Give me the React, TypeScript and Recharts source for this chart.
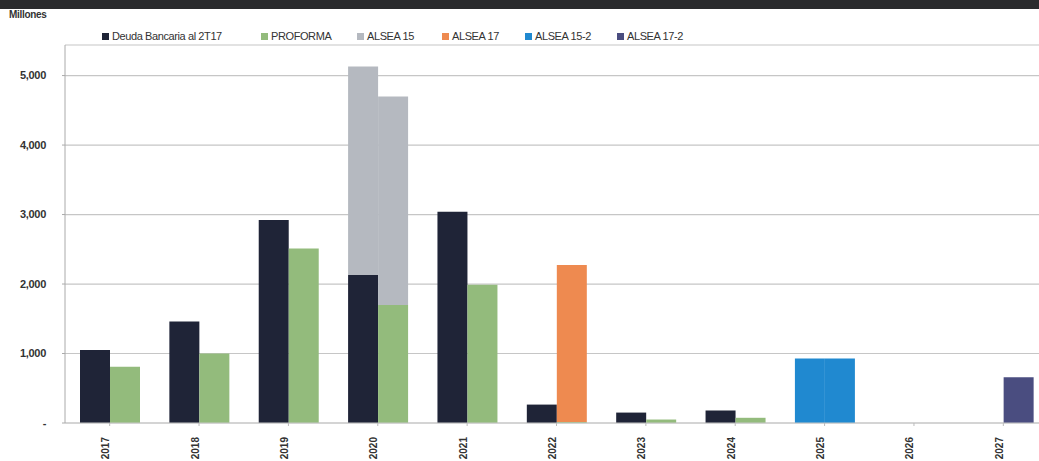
import React from "react";
import { BarChart, Bar, XAxis, YAxis, CartesianGrid } from "recharts";

// ── data (millones) ────────────────────────────────────────────────────────────
const years = ["2017", "2018", "2019", "2020", "2021", "2022", "2023", "2024", "2025", "2026", "2027"];
const deuda = [1050, 1460, 2920, 2130, 3040, 265, 150, 180, 0, 0, 0];
const proforma = [810, 1000, 2510, 1700, 1990, 15, 50, 75, 0, 0, 0];
const alsea15 = [0, 0, 0, 3000, 0, 0, 0, 0, 0, 0, 0];
const alsea17 = [0, 0, 0, 0, 0, 2260, 0, 0, 0, 0, 0];
const alsea152 = [0, 0, 0, 0, 0, 0, 0, 0, 930, 0, 0];
const alsea172 = [0, 0, 0, 0, 0, 0, 0, 0, 0, 0, 660];
const yTicks = [0, 1000, 2000, 3000, 4000, 5000];
const seriesNames = ["Deuda Bancaria al 2T17", "PROFORMA", "ALSEA 15", "ALSEA 17", "ALSEA 15-2", "ALSEA 17-2"];

const COLORS = ["#1f2437", "#93bb7c", "#b5b9c0", "#ee8a50", "#2089d0", "#4a4d80"];
const LEGEND_X = [102, 261, 357, 442, 525, 617]; // marker left edges
const FONT = "'Liberation Sans', Arial, sans-serif";

const data = years.map((y, i) => ({
  year: y,
  deuda: deuda[i],
  proforma: proforma[i],
  alsea15: alsea15[i],
  alsea17: alsea17[i],
  alsea152: alsea152[i],
  alsea172: alsea172[i],
}));

// ── legend row (kept outside the svg so it doesn't eat plot height) ───────────
function LegendRow() {
  return (
    <>
      {seriesNames.map((n, i) => (
        <div
          key={n}
          style={{
            position: "absolute",
            left: LEGEND_X[i],
            top: 30,
            display: "flex",
            alignItems: "center",
            fontFamily: FONT,
            fontSize: 11,
            letterSpacing: -0.4,
            color: "#333",
            whiteSpace: "nowrap",
          }}
        >
          <span style={{ width: 7, height: 7, background: COLORS[i], marginRight: 3, display: "inline-block" }} />
          <span>{n}</span>
        </div>
      ))}
    </>
  );
}

const YTick = (props: any) => {
  const { x, y, payload } = props;
  const v = payload.value;
  return (
    <text x={x - 14} y={y} dy="0.35em" textAnchor="end" fontFamily={FONT} fontSize={11} fontWeight="bold" fill="#333" letterSpacing={-0.3}>
      {v === 0 ? "-" : v.toLocaleString("en-US")}
    </text>
  );
};

const XTick = (props: any) => {
  const { x, y, payload } = props;
  return (
    <text
      transform={`translate(${x - 4},${y + 9}) rotate(-90)`}
      dy="0.35em"
      textAnchor="end"
      fontFamily={FONT}
      fontSize={10}
      fontWeight="bold"
      fill="#333"
    >
      {payload.value}
    </text>
  );
};

export default function App() {
  return (
    <div style={{ position: "absolute", left: 0, top: 0, width: 1039, height: 461, overflow: "hidden", background: "#fff" }}>
      <div style={{ position: "absolute", left: 0, top: 0, width: 1039, height: 9, background: "#2a2b2d" }} />
      <div
        style={{ position: "absolute", left: 9, top: 9, fontFamily: FONT, fontSize: 10, fontWeight: "bold", color: "#333", letterSpacing: -0.3 }}
      >
        Millones
      </div>
      <LegendRow />
      <div style={{ position: "absolute", left: 0, top: 0 }}>
        <BarChart
          width={1048}
          height={461}
          data={data}
          margin={{ top: 45, right: 0, bottom: 0, left: 0 }}
          barSize={30}
          barGap={0}
        >
          <CartesianGrid vertical={false} stroke="#c6c6c6" strokeWidth={1.2} />
          <XAxis
            dataKey="year"
            height={38}
            tick={<XTick />}
            tickLine={{ stroke: "#bbb" }}
            tickSize={3}
            axisLine={{ stroke: "#c6c6c6" }}
            interval={0}
          />
          <YAxis
            width={65}
            domain={[0, 5440]}
            ticks={yTicks}
            tick={<YTick />}
            tickLine={{ stroke: "#aaa" }}
            tickSize={3}
            axisLine={{ stroke: "#aaa" }}
          />
          <Bar dataKey="deuda" stackId="a" fill={COLORS[0]} isAnimationActive={false} />
          <Bar dataKey="alsea15" stackId="a" fill={COLORS[2]} isAnimationActive={false} />
          <Bar dataKey="alsea152" stackId="a" fill={COLORS[4]} isAnimationActive={false} />
          <Bar dataKey="proforma" stackId="b" fill={COLORS[1]} isAnimationActive={false} />
          <Bar dataKey="alsea15" stackId="b" fill={COLORS[2]} isAnimationActive={false} />
          <Bar dataKey="alsea17" stackId="b" fill={COLORS[3]} isAnimationActive={false} />
          <Bar dataKey="alsea152" stackId="b" fill={COLORS[4]} isAnimationActive={false} />
          <Bar dataKey="alsea172" stackId="b" fill={COLORS[5]} isAnimationActive={false} />
        </BarChart>
      </div>
    </div>
  );
}
